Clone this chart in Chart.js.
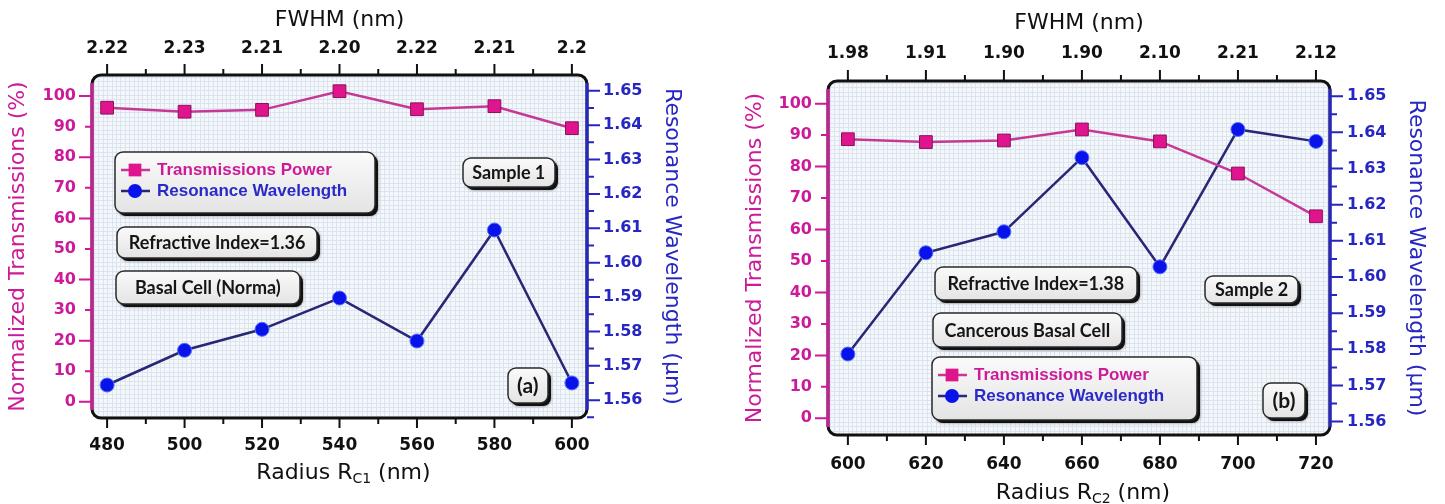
<!DOCTYPE html>
<html>
<head>
<meta charset="utf-8">
<script src="https://cdn.jsdelivr.net/npm/chart.js@4.4.1/dist/chart.umd.min.js"></script>
<style>
  body { margin: 0; background: #fff; }
  #wrap { position: relative; width: 1445px; height: 504px; }
  canvas { position: absolute; top: 0; }
</style>
</head>
<body>
<div id="wrap">
  <canvas id="chartA" width="720" height="504" style="left:0"></canvas>
  <canvas id="chartB" width="725" height="504" style="left:720px"></canvas>
</div>
<script>
// sample 1 (normal basal cell)
const radiusA = [480, 500, 520, 540, 560, 580, 600];
const fwhmA = ['2.22', '2.23', '2.21', '2.20', '2.22', '2.21', '2.2'];
const powerA = [96.2, 94.9, 95.5, 101.6, 95.7, 96.7, 89.5];
const lambdaA = [1.5644, 1.5745, 1.5806, 1.5897, 1.5772, 1.6095, 1.5650];

// sample 2 (cancerous basal cell)
const radiusB = [600, 620, 640, 660, 680, 700, 720];
const fwhmB = ['1.98', '1.91', '1.90', '1.90', '2.10', '2.21', '2.12'];
const powerB = [88.7, 87.8, 88.3, 91.8, 88.0, 77.8, 64.2];
const lambdaB = [1.5787, 1.6067, 1.6125, 1.6330, 1.6028, 1.6408, 1.6375];

const seriesNames = ['Transmissions Power', 'Resonance Wavelength'];

const MAGENTA = '#CC1A99';
const BLUE = '#2626C2';
const TICK_FONT = 'DejaVu Sans';
const NOTE_FONT = 'Lato';

// layout of each panel (pixel sizes, axis ranges, boxes)
const layoutA = {
    xMin: 476.1, xMax: 603.9, yMin: -5.3, yMax: 106.9, y1Min: 1.5548, y1Max: 1.6546,
    leftW: 92, rightW: 133, topH: 75, bottomH: 86,
    leftTitlePad: 5, rightTitlePad: 35, topTitlePad: 7,
    bottomPad: 17, topPad: 16, leftPad: 16, rightPad: 16,
    xTitleY: 473, sub: 'C1',
    notes: [
        { text: 'Sample 1', x: 583.7, y: 75.1, w: 92, h: 29 },
        { text: 'Refractive Index=1.36', x: 508.4, y: 52.1, w: 200, h: 31 },
        { text: 'Basal Cell (Norma)', x: 506.0, y: 37.4, w: 184, h: 33 },
        { text: '(a)', x: 588.6, y: 5.3, w: 40, h: 35, size: 21 }
    ],
    legend: { x: 515.6, y: 71.7, w: 260, h: 61 }
};

const layoutB = {
    xMin: 594.9, xMax: 723.6, yMin: -5.3, yMax: 107.2, y1Min: 1.5563, y1Max: 1.6542,
    leftW: 108, rightW: 115, topH: 81, bottomH: 69,
    leftTitlePad: 22, rightTitlePad: 16, topTitlePad: 10,
    bottomPad: 19, topPad: 17, leftPad: 16, rightPad: 17,
    xTitleY: 493, sub: 'C2',
    notes: [
        { text: 'Refractive Index=1.38', x: 648.2, y: 42.8, w: 202, h: 33 },
        { text: 'Cancerous Basal Cell', x: 646.0, y: 28.0, w: 189, h: 34 },
        { text: 'Sample 2', x: 703.5, y: 40.9, w: 93, h: 27 },
        { text: '(b)', x: 711.8, y: 5.65, w: 42, h: 35, size: 21 }
    ],
    legend: { x: 655.5, y: 9.5, w: 265, h: 63 }
};

function roundRect(ctx, x, y, w, h, r) {
    ctx.beginPath();
    ctx.moveTo(x + r, y);
    ctx.lineTo(x + w - r, y);
    ctx.arcTo(x + w, y, x + w, y + r, r);
    ctx.lineTo(x + w, y + h - r);
    ctx.arcTo(x + w, y + h, x + w - r, y + h, r);
    ctx.lineTo(x + r, y + h);
    ctx.arcTo(x, y + h, x, y + h - r, r);
    ctx.lineTo(x, y + r);
    ctx.arcTo(x, y, x + r, y, r);
    ctx.closePath();
}

// rounded grey box with a dark drop shadow
function drawBox(ctx, cx, cy, w, h) {
    const x = Math.round(cx - w / 2), y = Math.round(cy - h / 2);
    ctx.save();
    roundRect(ctx, x + 3, y + 3, w, h, 8);
    ctx.fillStyle = '#111';
    ctx.shadowColor = 'rgba(0,0,0,0.5)';
    ctx.shadowBlur = 3;
    ctx.fill();
    ctx.restore();
    roundRect(ctx, x, y, w, h, 8);
    const g = ctx.createLinearGradient(0, y, 0, y + h);
    g.addColorStop(0, '#FAFAFA');
    g.addColorStop(1, '#E4E4E4');
    ctx.fillStyle = g;
    ctx.fill();
    ctx.lineWidth = 1.5;
    ctx.strokeStyle = '#2A2A2A';
    ctx.stroke();
    return { x, y };
}

function decorPlugin(L) {
    return {
        id: 'decor',
        beforeDraw(chart) {
            const { ctx, chartArea: a } = chart;
            ctx.save();
            roundRect(ctx, a.left, a.top, a.right - a.left, a.bottom - a.top, 9);
            ctx.fillStyle = '#F4F7FB';
            ctx.fill();
            ctx.clip();
            ctx.strokeStyle = '#DCE4EE';
            ctx.lineWidth = 1;
            ctx.beginPath();
            for (let x = a.left + 2; x < a.right; x += 4.4) {
                const px = Math.round(x) + 0.5;
                ctx.moveTo(px, a.top); ctx.lineTo(px, a.bottom);
            }
            for (let y = a.top + 2; y < a.bottom; y += 4.4) {
                const py = Math.round(y) + 0.5;
                ctx.moveTo(a.left, py); ctx.lineTo(a.right, py);
            }
            ctx.stroke();
            ctx.restore();
        },
        afterDraw(chart) {
            const { ctx, chartArea: a, scales } = chart;
            ctx.save();

            // frame: black top/bottom, coloured value axes
            ctx.lineWidth = 3;
            ctx.strokeStyle = '#111';
            roundRect(ctx, a.left, a.top, a.right - a.left, a.bottom - a.top, 9);
            ctx.stroke();
            ctx.beginPath();
            ctx.strokeStyle = MAGENTA;
            ctx.moveTo(a.left, a.top + 8); ctx.lineTo(a.left, a.bottom - 8);
            ctx.stroke();
            ctx.beginPath();
            ctx.strokeStyle = BLUE;
            ctx.moveTo(a.right, a.top + 8); ctx.lineTo(a.right, a.bottom - 8);
            ctx.stroke();

            // tick marks
            ctx.lineWidth = 2;
            ctx.strokeStyle = '#111';
            ctx.beginPath();
            for (let v = Math.ceil(L.xMin / 10) * 10; v <= L.xMax; v += 10) {
                const px = scales.x.getPixelForValue(v);
                const major = v % 20 === 0;
                ctx.moveTo(px, a.bottom); ctx.lineTo(px, a.bottom + (major ? 10 : 6));
                ctx.moveTo(px, a.top); ctx.lineTo(px, a.top - (major ? 11 : 6));
            }
            ctx.stroke();
            ctx.strokeStyle = MAGENTA;
            ctx.beginPath();
            for (let v = 0; v <= 100; v += 10) {
                const py = scales.y.getPixelForValue(v);
                ctx.moveTo(a.left, py); ctx.lineTo(a.left - (v % 20 === 0 ? 13 : 7), py);
            }
            ctx.stroke();
            ctx.strokeStyle = BLUE;
            ctx.beginPath();
            for (let k = Math.ceil(L.y1Min * 200); k <= L.y1Max * 200; k++) {
                const py = scales.y1.getPixelForValue(k / 200);
                ctx.moveTo(a.right, py); ctx.lineTo(a.right + (k % 2 === 0 ? 13 : 7), py);
            }
            ctx.stroke();

            // text boxes
            ctx.textBaseline = 'middle';
            L.notes.forEach(n => {
                const cx = scales.x.getPixelForValue(n.x);
                const cy = scales.y.getPixelForValue(n.y);
                drawBox(ctx, cx, cy, n.w, n.h);
                ctx.fillStyle = '#151515';
                ctx.textAlign = 'center';
                ctx.font = 'bold ' + (n.size || 18) + 'px ' + NOTE_FONT;
                ctx.fillText(n.text, cx, cy + 1);
            });

            // legend box
            const lg = L.legend;
            const p = drawBox(ctx, scales.x.getPixelForValue(lg.x), scales.y.getPixelForValue(lg.y), lg.w, lg.h);
            chart.data.datasets.forEach((ds, i) => {
                const ry = p.y + 18 + i * 21;
                ctx.beginPath();
                ctx.lineWidth = 2.5;
                ctx.strokeStyle = ds.borderColor;
                ctx.moveTo(p.x + 6, ry); ctx.lineTo(p.x + 35, ry);
                ctx.stroke();
                ctx.fillStyle = ds.pointBackgroundColor;
                ctx.strokeStyle = ds.pointBorderColor;
                ctx.lineWidth = 1;
                Chart.helpers.drawPoint(ctx, { pointStyle: ds.pointStyle, radius: ds.pointRadius, rotation: 0 }, p.x + 20, ry);
                ctx.fillStyle = i === 0 ? MAGENTA : '#2A2AC8';
                ctx.textAlign = 'left';
                ctx.font = 'bold 17px "Liberation Sans"';
                ctx.fillText(ds.label, p.x + 42, ry);
            });

            // bottom axis title with subscript
            const big = '22px ' + TICK_FONT, small = '14px ' + TICK_FONT;
            const t1 = 'Radius R', t2 = L.sub, t3 = ' (nm)';
            ctx.font = big; const w1 = ctx.measureText(t1).width, w3 = ctx.measureText(t3).width;
            ctx.font = small; const w2 = ctx.measureText(t2).width;
            let x0 = (a.left + a.right) / 2 + 4 - (w1 + w2 + w3) / 2;
            ctx.fillStyle = '#111';
            ctx.textAlign = 'left';
            ctx.font = big; ctx.fillText(t1, x0, L.xTitleY);
            ctx.font = small; ctx.fillText(t2, x0 + w1, L.xTitleY + 6);
            ctx.font = big; ctx.fillText(t3, x0 + w1 + w2, L.xTitleY);
            ctx.restore();
        }
    };
}

function makeChart(id, radius, fwhm, power, lambda, L) {
    const ctx = document.getElementById(id).getContext('2d');
    const tickFont = size => ({ family: TICK_FONT, weight: 'bold', size: size });
    return new Chart(ctx, {
        type: 'line',
        data: {
            datasets: [
                {
                    label: seriesNames[0],
                    data: radius.map((r, i) => ({ x: r, y: power[i] })),
                    yAxisID: 'y',
                    borderColor: '#C63896',
                    borderWidth: 2.5,
                    pointStyle: 'rect',
                    pointRadius: 9,
                    pointBackgroundColor: '#E0158E',
                    pointBorderColor: '#8A0F5E',
                    pointBorderWidth: 1
                },
                {
                    label: seriesNames[1],
                    data: radius.map((r, i) => ({ x: r, y: lambda[i] })),
                    yAxisID: 'y1',
                    borderColor: '#272775',
                    borderWidth: 2.5,
                    pointStyle: 'circle',
                    pointRadius: 7,
                    pointBackgroundColor: '#0A12EA',
                    pointBorderColor: '#5570FF',
                    pointBorderWidth: 1
                }
            ]
        },
        options: {
            responsive: false,
            animation: false,
            devicePixelRatio: 1,
            layout: { padding: 0 },
            plugins: {
                legend: { display: false },
                tooltip: { enabled: false }
            },
            scales: {
                x: {
                    type: 'linear',
                    position: 'bottom',
                    min: L.xMin,
                    max: L.xMax,
                    afterFit: s => { s.height = L.bottomH; },
                    grid: { display: false, drawTicks: false },
                    border: { display: false },
                    ticks: {
                        stepSize: 20, includeBounds: false, autoSkip: false, maxRotation: 0,
                        padding: L.bottomPad, color: '#111', font: tickFont(17),
                        callback: v => String(v)
                    }
                },
                x2: {
                    type: 'linear',
                    position: 'top',
                    min: L.xMin,
                    max: L.xMax,
                    afterFit: s => { s.height = L.topH; },
                    grid: { display: false, drawTicks: false },
                    border: { display: false },
                    ticks: {
                        stepSize: 20, includeBounds: false, autoSkip: false, maxRotation: 0,
                        padding: L.topPad, color: '#111', font: tickFont(17),
                        callback: v => { const i = radius.indexOf(v); return i < 0 ? '' : fwhm[i]; }
                    },
                    title: {
                        display: true,
                        text: 'FWHM (nm)',
                        color: '#111',
                        font: { family: TICK_FONT, size: 22 },
                        padding: { top: L.topTitlePad, bottom: 0 }
                    }
                },
                y: {
                    type: 'linear',
                    position: 'left',
                    min: L.yMin,
                    max: L.yMax,
                    afterFit: s => { s.width = L.leftW; },
                    grid: { display: false, drawTicks: false },
                    border: { display: false },
                    ticks: {
                        stepSize: 10, includeBounds: false, autoSkip: false,
                        padding: L.leftPad, color: MAGENTA, font: tickFont(16)
                    },
                    title: {
                        display: true,
                        text: 'Normalized Transmissions (%)',
                        color: MAGENTA,
                        font: { family: TICK_FONT, size: 22 },
                        padding: { top: L.leftTitlePad, bottom: 0 }
                    }
                },
                y1: {
                    type: 'linear',
                    position: 'right',
                    min: L.y1Min,
                    max: L.y1Max,
                    afterFit: s => { s.width = L.rightW; },
                    grid: { display: false, drawTicks: false },
                    border: { display: false },
                    ticks: {
                        stepSize: 0.01, includeBounds: false, autoSkip: false,
                        padding: L.rightPad, color: BLUE, font: tickFont(16),
                        callback: v => v.toFixed(2)
                    },
                    title: {
                        display: true,
                        text: 'Resonance Wavelength (µm)',
                        color: BLUE,
                        font: { family: TICK_FONT, size: 22 },
                        padding: { top: L.rightTitlePad, bottom: 0 }
                    }
                }
            }
        },
        plugins: [decorPlugin(L)]
    });
}

makeChart('chartA', radiusA, fwhmA, powerA, lambdaA, layoutA);
makeChart('chartB', radiusB, fwhmB, powerB, lambdaB, layoutB);
</script>
</body>
</html>
